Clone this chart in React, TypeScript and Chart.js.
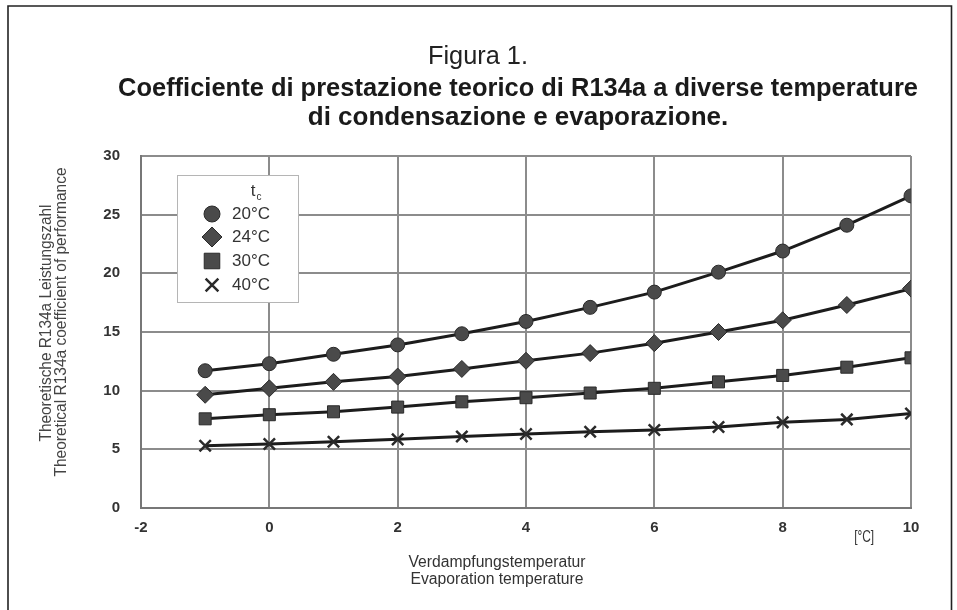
import React, { useEffect, useRef } from "react";
import { Chart, registerables } from "chart.js";

Chart.register(...registerables);

// Evaporation temperature [°C]
const evapTemps = [-1, 0, 1, 2, 3, 4, 5, 6, 7, 8, 9, 10];

// Theoretical COP of R134a for each condensation temperature
const cop20 = [11.7, 12.3, 13.1, 13.9, 14.85, 15.9, 17.1, 18.4, 20.1, 21.9, 24.1, 26.6];
const cop24 = [9.65, 10.2, 10.75, 11.2, 11.85, 12.55, 13.2, 14.05, 15.0, 16.0, 17.3, 18.7];
const cop30 = [7.6, 7.95, 8.2, 8.6, 9.05, 9.4, 9.8, 10.2, 10.75, 11.3, 12.0, 12.8];
const cop40 = [5.3, 5.45, 5.65, 5.85, 6.1, 6.3, 6.5, 6.65, 6.9, 7.3, 7.55, 8.05];

const seriesLabels = ["20°C", "24°C", "30°C", "40°C"];
const seriesValues = [cop20, cop24, cop30, cop40];
const seriesMarkers = ["circle", "rectRot", "rect", "crossRot"];

const xTicks = [-2, 0, 2, 4, 6, 8, 10];
const yTicks = [0, 5, 10, 15, 20, 25, 30];

const figureLabel = "Figura 1.";
const titleLines = [
  "Coefficiente di prestazione teorico di R134a a diverse temperature",
  "di condensazione e evaporazione.",
];
const yTitleLines = ["Theoretische R134a Leistungszahl", "Theoretical R134a coefficient of performance"];
const xTitleLines = ["Verdampfungstemperatur", "Evaporation temperature"];
const unitLabel = "[°C]";
const legendHeading = "t";
const legendHeadingSub = "c";

const FONT = "'Liberation Sans', Arial, Helvetica, sans-serif";

// marker sizes on the curves and in the key
const markerRadius: Record<string, number> = { circle: 7, rectRot: 8.5, rect: 8.5, crossRot: 8 };
const keyRadius: Record<string, number> = { circle: 8, rectRot: 10, rect: 11, crossRot: 9 };

function text(
  ctx: CanvasRenderingContext2D,
  s: string,
  x: number,
  y: number,
  font: string,
  color: string,
  maxWidth?: number,
  baseline: CanvasTextBaseline = "middle",
  align: CanvasTextAlign = "center",
  rotate = false
) {
  ctx.save();
  ctx.translate(x, y);
  if (rotate) ctx.rotate(-Math.PI / 2);
  ctx.font = font;
  ctx.fillStyle = color;
  ctx.textAlign = align;
  ctx.textBaseline = baseline;
  if (maxWidth) ctx.fillText(s, 0, 0, maxWidth);
  else ctx.fillText(s, 0, 0);
  ctx.restore();
}

function drawMarker(ctx: CanvasRenderingContext2D, style: string, x: number, y: number, r: number) {
  ctx.beginPath();
  if (style === "circle") {
    ctx.arc(x, y, r, 0, Math.PI * 2);
    ctx.fill();
    ctx.stroke();
  } else if (style === "rectRot") {
    ctx.moveTo(x - r, y);
    ctx.lineTo(x, y - r);
    ctx.lineTo(x + r, y);
    ctx.lineTo(x, y + r);
    ctx.closePath();
    ctx.fill();
    ctx.stroke();
  } else if (style === "rect") {
    const s = Math.SQRT1_2 * r;
    ctx.rect(x - s, y - s, 2 * s, 2 * s);
    ctx.fill();
    ctx.stroke();
  } else {
    const s = Math.SQRT1_2 * r;
    ctx.moveTo(x - s, y - s);
    ctx.lineTo(x + s, y + s);
    ctx.moveTo(x + s, y - s);
    ctx.lineTo(x - s, y + s);
    ctx.stroke();
  }
}

const decorations = {
  id: "decorations",
  beforeDraw(chart: any) {
    const { ctx, width, height } = chart;
    ctx.save();
    ctx.fillStyle = "#ffffff";
    ctx.fillRect(0, 0, width, height);
    ctx.restore();
  },
  afterDraw(chart: any) {
    const { ctx, height } = chart;
    const xs = chart.scales.x;

    // page frame, open at the bottom
    ctx.save();
    ctx.strokeStyle = "#222";
    ctx.lineWidth = 1.6;
    ctx.beginPath();
    ctx.moveTo(8, height);
    ctx.lineTo(8, 6);
    ctx.lineTo(951.5, 6);
    ctx.lineTo(951.5, height);
    ctx.stroke();
    ctx.restore();

    // headings
    text(ctx, figureLabel, 478, 64, `26px ${FONT}`, "#222", 100, "alphabetic");
    text(ctx, titleLines[0], 518, 96, `bold 26px ${FONT}`, "#1a1a1a", 800, "alphabetic");
    text(ctx, titleLines[1], 518, 125, `bold 26px ${FONT}`, "#1a1a1a", undefined, "alphabetic");

    // axis titles
    text(ctx, yTitleLines[0], 47, 323, `16px ${FONT}`, "#444", 237, "middle", "center", true);
    text(ctx, yTitleLines[1], 62, 322, `16px ${FONT}`, "#444", 309, "middle", "center", true);
    text(ctx, xTitleLines[0], 497, 563, `16px ${FONT}`, "#333", 177);
    text(ctx, xTitleLines[1], 497, 580, `16px ${FONT}`, "#333", 173);
    text(ctx, unitLabel, xs.getPixelForValue(9.27), 537, `17px ${FONT}`, "#333", 20);

    // key box
    const bx = 177, by = 175, bw = 121, bh = 127;
    ctx.save();
    ctx.fillStyle = "#ffffff";
    ctx.fillRect(bx, by, bw, bh);
    ctx.strokeStyle = "#b5b5b5";
    ctx.lineWidth = 1;
    ctx.strokeRect(bx + 0.5, by + 0.5, bw, bh);
    ctx.restore();

    text(ctx, legendHeading, 253, 191, `17px ${FONT}`, "#333");
    text(ctx, legendHeadingSub, 259, 197, `10px ${FONT}`, "#333");

    const rowY = [214, 237, 261, 285];
    seriesLabels.forEach((label, i) => {
      const style = seriesMarkers[i];
      ctx.save();
      ctx.fillStyle = "#4a4a4a";
      ctx.strokeStyle = "#2a2a2a";
      ctx.lineWidth = style === "crossRot" ? 2.5 : 1;
      drawMarker(ctx, style, 212, rowY[i], keyRadius[style]);
      ctx.restore();
      text(ctx, label, 232, rowY[i], `17px ${FONT}`, "#333", 42, "middle", "left");
    });
  },
};

export default function App() {
  const canvasRef = useRef<HTMLCanvasElement | null>(null);

  useEffect(() => {
    const canvas = canvasRef.current;
    if (!canvas) return;

    const datasets = seriesLabels.map((label, i) => {
      const style = seriesMarkers[i];
      return {
        label,
        data: evapTemps.map((t, j) => ({ x: t, y: seriesValues[i][j] })),
        borderColor: "#1c1c1c",
        borderWidth: 3,
        tension: 0,
        pointStyle: style,
        pointRadius: markerRadius[style],
        pointBackgroundColor: "#4a4a4a",
        pointBorderColor: "#2a2a2a",
        pointBorderWidth: style === "crossRot" ? 2.5 : 1,
        fill: false,
      };
    });

    const chart = new Chart(canvas, {
      type: "line",
      data: { datasets },
      options: {
        responsive: false,
        animation: false,
        devicePixelRatio: 1,
        layout: { padding: { left: 0, right: 46, top: 156, bottom: 0 } },
        plugins: {
          legend: { display: false },
          title: { display: false },
          tooltip: { enabled: false },
        },
        scales: {
          x: {
            type: "linear",
            min: xTicks[0],
            max: xTicks[xTicks.length - 1],
            afterBuildTicks: (s: any) => {
              s.ticks = xTicks.map((v) => ({ value: v }));
            },
            afterFit: (s: any) => {
              s.height = 102;
            },
            ticks: {
              padding: 11,
              color: "#333",
              font: { family: FONT, size: 15, weight: "bold" },
              callback: (v: any) => String(v),
            },
            grid: { color: "#8c8c8c", lineWidth: 2, drawTicks: false },
            border: { display: true, color: "#777", width: 2 },
          },
          y: {
            type: "linear",
            min: yTicks[0],
            max: yTicks[yTicks.length - 1],
            afterBuildTicks: (s: any) => {
              s.ticks = yTicks.map((v) => ({ value: v }));
            },
            afterFit: (s: any) => {
              s.width = 141;
            },
            ticks: {
              padding: 21,
              color: "#333",
              font: { family: FONT, size: 15, weight: "bold" },
              callback: (v: any) => String(v),
            },
            grid: { color: "#8c8c8c", lineWidth: 2, drawTicks: false },
            border: { display: true, color: "#777", width: 2 },
          },
        },
      },
      plugins: [decorations],
    } as any);

    return () => chart.destroy();
  }, []);

  return (
    <div style={{ position: "absolute", left: 0, top: 0, width: 957, height: 610, background: "#fff" }}>
      <canvas ref={canvasRef} width={957} height={610} style={{ display: "block", width: 957, height: 610 }} />
    </div>
  );
}
